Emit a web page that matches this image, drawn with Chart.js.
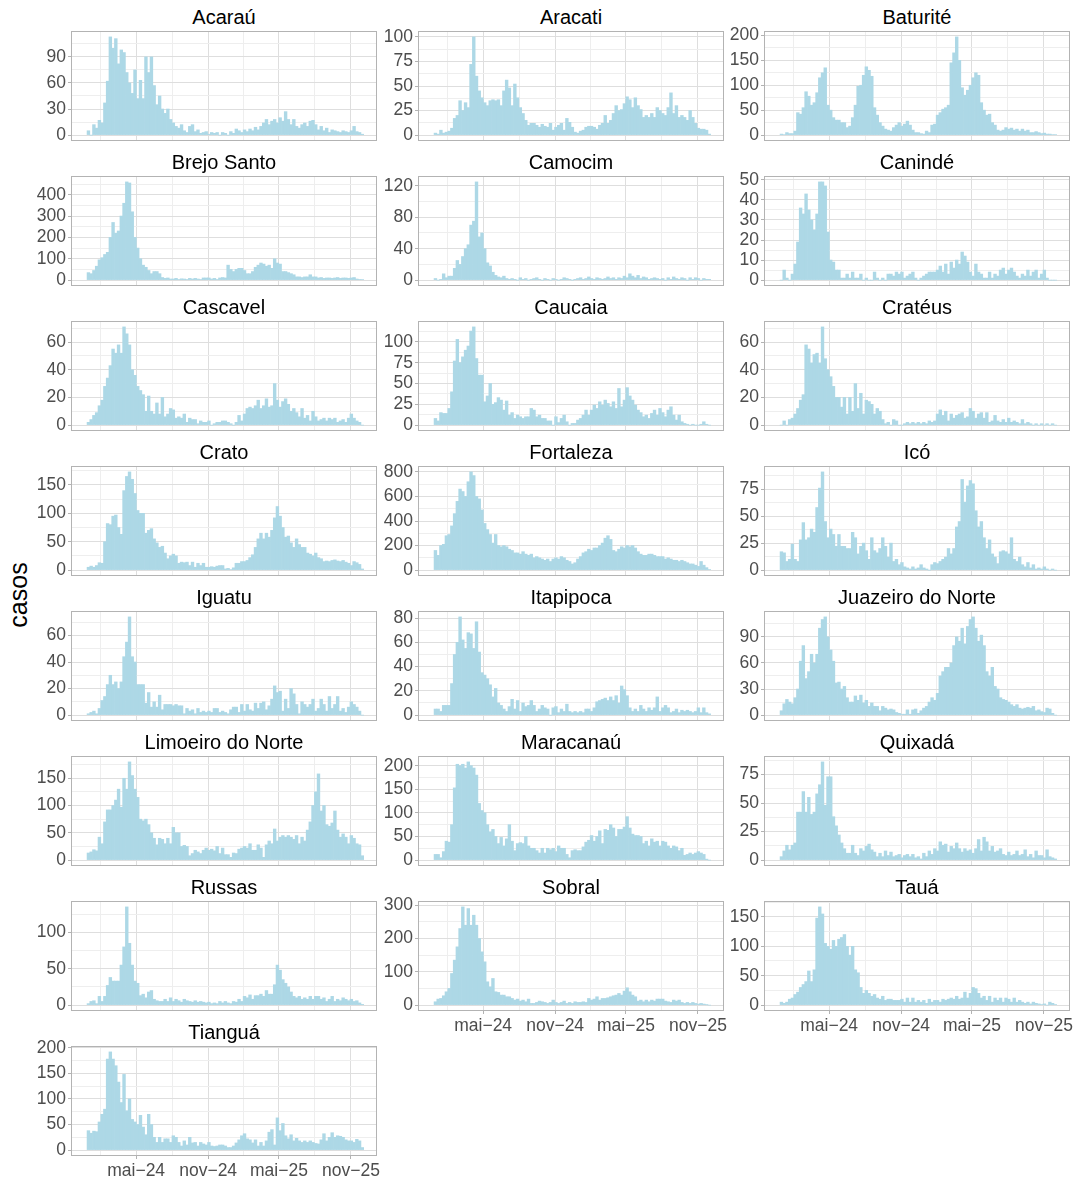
<!DOCTYPE html>
<html>
<head>
<meta charset="utf-8">
<script src="https://cdn.jsdelivr.net/npm/chart.js@4.4.1/dist/chart.umd.min.js"></script>
<style>
    body {
        margin: 0;
        background: #ffffff;
        width: 1080px;
        height: 1180px;
        position: relative;
        overflow: hidden;
        font-family: "Liberation Sans", Arial, sans-serif;
    }
    .panel {
        position: absolute;
    }
    .strip {
        position: absolute;
        width: 304px;
        height: 24px;
        line-height: 24px;
        text-align: center;
        font-size: 20px;
        color: #000000;
        white-space: nowrap;
    }
    #ylab {
        position: absolute;
        left: -22px;
        top: 580px;
        width: 80px;
        height: 30px;
        line-height: 30px;
        text-align: center;
        font-size: 25px;
        color: #000000;
        transform: rotate(-90deg);
    }
</style>
</head>
<body>
<div id="ylab">casos</div>
<script>
// ##################### DATA #####################

// casos semanais, 1a barra = semana de 31/12/2023
const cities = [
    "Acaraú", "Aracati", "Baturité",
    "Brejo Santo", "Camocim", "Canindé",
    "Cascavel", "Caucaia", "Cratéus",
    "Crato", "Fortaleza", "Icó",
    "Iguatu", "Itapipoca", "Juazeiro do Norte",
    "Limoeiro do Norte", "Maracanaú", "Quixadá",
    "Russas", "Sobral", "Tauá",
    "Tianguá"
];

const acarau = [5,0,12,8,17,14,37,62,113,100,111,82,98,95,72,60,48,75,42,63,42,90,72,90,57,35,45,30,25,30,18,14,10,8,12,5,3,10,12,4,6,2,3,4,1,3,2,3,0,3,2,0,4,2,7,5,3,6,4,7,5,9,6,10,14,18,12,16,18,14,20,16,27,18,12,18,10,8,12,14,10,16,17,12,6,10,5,8,3,6,5,4,3,5,4,3,5,10,4,3,1];
const aracati = [2,1,5,2,3,4,7,17,20,35,25,33,28,72,100,60,45,38,33,30,35,36,35,36,30,45,56,48,30,52,38,28,22,15,10,12,12,10,8,11,9,8,12,5,8,10,12,5,17,13,8,3,2,4,5,8,9,9,8,6,10,12,20,12,15,22,30,25,26,32,39,36,28,38,30,26,18,20,18,22,18,28,25,22,20,28,43,22,30,18,20,18,15,25,18,12,7,6,6,5,1];
const baturite = [2,1,5,3,3,8,45,42,55,87,78,60,65,85,115,125,135,60,50,35,30,30,25,25,15,18,35,60,98,100,120,137,130,118,55,40,25,18,12,10,8,15,20,25,18,22,28,20,10,5,5,3,2,8,5,20,22,40,45,52,55,60,145,165,197,150,95,80,90,100,115,125,120,65,50,40,42,25,20,10,8,10,15,12,14,10,12,8,12,8,10,5,5,7,5,3,4,2,2,1,1];
const brejoSanto = [35,30,45,65,95,105,120,130,200,270,220,230,300,360,460,455,320,200,150,100,70,60,45,30,40,40,30,12,8,10,5,5,8,3,6,5,3,8,5,8,5,3,10,10,10,5,8,3,10,12,10,70,50,40,50,55,55,45,30,30,40,60,70,80,75,65,70,55,100,80,75,40,40,35,30,25,15,15,12,15,15,25,15,15,10,12,8,10,10,8,10,12,8,10,10,8,10,12,5,3,2];
const camocim = [2,0,1,8,3,5,5,15,25,20,30,40,45,70,75,125,55,60,40,22,18,10,6,4,3,5,2,1,2,1,0,3,1,2,0,1,2,3,1,0,2,1,0,2,1,0,1,3,2,1,0,1,2,3,1,2,4,2,1,3,2,1,2,4,2,3,1,3,2,5,3,8,5,3,6,2,4,3,1,2,3,2,1,2,0,3,1,4,2,1,3,2,0,3,1,3,2,0,2,1,1];
const caninde = [0,5,1,0,3,8,19,36,33,43,35,30,25,33,49,49,47,24,10,9,5,5,1,1,3,1,4,1,1,3,0,1,0,0,4,1,0,1,0,3,3,2,4,3,4,1,2,3,4,1,0,1,2,3,4,4,4,5,7,4,8,3,9,6,10,8,14,12,9,4,2,8,4,3,1,1,4,1,3,2,5,6,3,5,6,4,2,1,3,2,5,2,4,5,1,3,5,1,0,0,0];
const cascavel = [2,4,7,9,14,18,28,34,43,55,52,58,52,71,66,58,40,36,28,25,22,10,21,10,8,16,8,20,6,8,12,11,5,6,5,8,2,5,4,4,1,3,2,2,3,0,1,2,2,3,3,2,1,0,2,7,3,8,12,13,12,14,18,12,14,19,13,14,30,18,13,17,19,15,10,12,9,6,12,5,7,3,10,6,3,4,5,3,5,4,5,2,3,4,2,5,8,5,3,2,0];
const caucaia = [8,5,15,14,14,20,40,77,103,75,82,90,95,113,118,80,60,60,28,35,50,25,27,33,30,18,29,12,15,8,12,10,8,10,10,20,18,10,12,8,8,5,5,0,10,3,8,12,4,0,2,2,6,8,12,18,12,18,24,20,28,24,30,26,22,28,20,44,22,30,45,35,30,24,18,15,10,12,8,14,18,12,20,15,10,18,22,12,6,12,4,2,1,0,1,0,0,1,4,1,0];
const crateus = [0,3,0,4,5,8,12,18,22,58,55,45,51,52,45,71,48,40,35,28,20,20,13,20,8,20,10,30,12,23,8,18,17,15,8,12,10,4,1,2,0,4,3,0,0,1,2,1,2,1,2,1,2,1,3,2,3,8,11,7,10,3,8,5,7,8,9,5,6,12,10,5,8,9,5,9,2,3,7,3,2,4,2,5,2,3,2,1,4,1,2,1,0,1,0,1,0,1,0,1,0];
const crato = [5,7,5,8,13,12,50,82,80,95,97,75,63,140,165,173,160,135,105,100,100,65,70,73,55,48,40,42,30,20,25,28,25,12,14,13,14,8,14,5,12,8,12,5,5,6,5,7,8,8,2,3,1,4,12,12,15,15,17,22,27,40,55,65,55,65,58,70,92,112,95,75,58,60,48,40,55,45,40,40,30,28,25,30,22,20,15,16,15,17,18,16,15,17,14,12,8,15,13,10,2];
const fortaleza = [160,120,200,210,280,290,360,460,560,660,640,600,720,800,770,600,580,490,380,330,290,220,290,200,190,200,190,170,160,140,140,130,150,130,120,130,100,110,100,90,80,90,70,90,100,90,110,100,80,70,50,60,90,110,140,150,170,160,180,180,200,220,260,280,250,160,150,170,190,180,200,190,200,180,150,130,120,120,130,130,120,110,110,110,90,100,90,80,80,70,80,70,60,50,50,40,30,70,40,20,5];
const ico = [17,16,8,10,24,10,8,28,44,28,30,38,35,58,76,91,45,30,38,33,22,33,22,22,20,20,35,30,15,22,25,18,10,30,18,16,20,30,22,12,25,8,10,5,7,3,2,1,3,1,2,5,2,1,0,5,7,6,8,10,12,20,15,20,40,45,84,63,78,83,80,55,40,45,30,20,28,15,12,6,17,18,17,15,30,10,8,12,5,3,7,2,5,1,2,1,3,1,0,1,0];
const iguatu = [1,2,3,1,5,11,14,23,30,23,25,20,25,44,55,74,44,40,23,23,23,9,17,6,10,6,15,4,8,8,8,7,8,7,7,1,5,3,4,1,5,2,3,2,3,2,5,5,2,3,2,1,4,6,6,2,8,3,8,4,3,9,5,9,10,4,7,12,22,17,18,3,12,5,20,16,8,1,10,8,6,8,12,3,5,12,8,3,14,5,8,14,3,5,2,6,10,8,6,3,0];
const itapipoca = [5,5,3,8,8,8,26,50,60,81,62,55,68,67,55,77,52,35,33,30,25,15,22,10,8,5,3,7,13,5,12,3,10,7,8,12,8,3,5,8,6,5,0,6,7,2,5,3,9,3,2,3,2,3,2,5,5,3,6,11,12,13,14,12,15,12,16,10,24,21,16,6,3,5,3,8,5,3,6,4,6,15,3,6,8,6,2,3,5,2,4,3,4,3,2,3,6,2,6,2,1];
const juazeiro = [5,13,18,15,13,20,30,62,80,42,50,70,60,70,100,110,113,90,75,62,37,38,30,33,20,15,15,22,17,23,14,17,10,14,10,10,5,10,8,6,7,6,3,2,1,1,6,1,6,7,2,5,8,10,15,20,17,25,45,50,55,55,60,80,90,85,100,82,102,110,113,100,85,92,80,50,45,55,33,30,20,18,17,15,12,10,12,8,7,8,9,8,10,5,6,4,3,8,7,2,0];
const limoeiro = [13,15,19,17,42,30,70,92,92,100,110,130,97,150,130,180,155,130,115,75,72,75,65,50,40,28,40,38,30,40,30,60,50,50,25,27,25,8,12,18,15,12,18,22,18,20,17,25,12,22,10,10,5,13,12,20,22,25,22,30,18,18,28,22,5,28,35,30,57,35,42,45,42,45,42,38,45,30,42,35,55,70,100,125,158,90,100,65,62,68,90,55,42,48,42,30,45,40,30,28,8];
const maracanau = [12,12,5,18,40,38,75,153,203,200,203,195,208,200,195,180,120,105,100,75,60,65,50,35,48,30,45,75,40,20,35,37,35,50,30,25,25,20,15,25,15,25,22,25,18,30,25,25,12,5,20,22,20,20,28,38,42,52,40,50,62,35,65,63,75,68,50,65,65,70,92,68,55,52,52,50,35,40,30,45,38,40,30,40,38,30,25,30,28,20,25,10,12,15,12,15,18,15,12,2,0];
const quixada = [3,8,13,9,13,15,42,42,60,42,55,40,42,58,66,86,48,73,73,38,30,22,15,10,6,6,13,6,4,10,8,12,14,9,7,3,6,3,8,4,7,3,4,5,2,4,5,3,5,2,3,1,6,3,8,5,10,8,16,13,14,7,12,10,15,10,7,10,8,9,6,10,18,8,20,16,8,12,7,8,10,5,4,7,4,5,8,4,5,9,3,5,2,8,4,4,2,9,3,2,1];
const russas = [2,5,6,2,12,5,12,27,38,33,33,33,55,80,135,85,55,33,30,13,15,10,18,20,8,6,5,5,8,5,10,5,8,6,4,8,6,5,4,6,4,5,4,3,4,2,3,2,5,3,5,3,2,5,4,8,5,12,10,14,8,13,13,15,12,20,15,15,28,55,48,35,30,25,18,12,10,12,8,10,8,12,8,12,12,8,10,5,8,12,5,8,6,10,8,6,8,5,6,3,1];
const sobral = [10,18,20,28,40,50,95,135,175,230,295,240,290,240,270,240,200,160,130,70,55,80,40,38,30,30,25,25,20,15,18,12,15,10,18,5,5,8,12,10,8,5,8,15,8,5,8,12,5,8,5,10,8,8,10,8,20,15,18,25,15,20,20,22,25,28,30,35,30,42,52,40,30,25,12,15,10,15,10,15,12,18,18,18,12,10,8,15,12,15,8,5,8,5,8,5,3,5,3,1,0];
const taua = [5,3,5,10,12,18,22,30,35,40,58,40,60,148,167,155,105,100,95,110,100,112,115,120,100,85,100,60,55,30,20,25,20,15,18,12,10,15,8,10,10,8,8,8,10,5,12,5,12,5,8,5,8,3,10,5,8,8,5,10,8,10,12,10,15,10,12,22,12,20,30,28,20,12,15,8,15,5,12,8,12,5,12,10,5,12,5,8,5,3,5,2,5,3,2,1,2,0,5,3,1];
const tiangua = [38,33,37,36,55,70,80,178,192,178,165,133,93,148,77,100,60,55,50,68,45,30,70,50,25,15,25,15,22,22,15,28,25,15,8,18,10,25,14,15,8,15,12,10,15,8,7,8,10,10,8,5,5,8,14,20,28,32,22,20,14,20,8,15,8,18,35,40,10,63,38,52,28,22,30,18,23,18,15,18,15,18,15,13,12,20,32,18,25,34,25,28,27,25,20,18,18,15,21,18,5];

const series = [
    acarau, aracati, baturite,
    brejoSanto, camocim, caninde,
    cascavel, caucaia, crateus,
    crato, fortaleza, ico,
    iguatu, itapipoca, juazeiro,
    limoeiro, maracanau, quixada,
    russas, sobral, taua,
    tiangua
];

// passo das marcas do eixo y de cada painel
const yStep = [30, 25, 50, 100, 40, 10, 20, 25, 20, 50, 200, 25, 20, 20, 30, 50, 50, 25, 50, 100, 50, 50];

// eixo x em dias desde 31/12/2023
const weekDays = acarau.map((_, i) => 7 * i);
const xTickDays = [122, 306, 487, 671];
const xTickLabels = ["mai−24", "nov−24", "mai−25", "nov−25"];
const xMinorDays = [30, 214, 396.5, 579];

// ##################### STYLE #####################

const FONT = '"Liberation Sans", Arial, sans-serif';
const BAR = "#add8e6";
const GRID_MAJOR = "#dedede";
const GRID_MINOR = "#eeeeee";
const BORDER = "#b3b3b3";
const TICK_TEXT = "#4d4d4d";

const X_MIN = -42;
const X_MAX = 735;
const AXIS_W = 42;
const PLOT_W = 304;
const PLOT_H = 108;
const PAD_TOP = 14;
const PAD_BOTTOM = 12;
const X_AXIS_H = 28;

const xTicks = xMinorDays
    .map((d) => ({ value: d, minor: true, text: "" }))
    .concat(xTickDays.map((d, i) => ({ value: d, minor: false, text: xTickLabels[i] })))
    .sort((a, b) => a.value - b.value);

// moldura do painel (por cima das barras, como no ggplot)
const framePlugin = {
    id: "frame",
    afterDatasetsDraw(chart) {
        const a = chart.chartArea;
        const ctx = chart.ctx;
        ctx.save();
        ctx.strokeStyle = BORDER;
        ctx.lineWidth = 1;
        ctx.strokeRect(a.left - 0.5, a.top - 0.5, a.right - a.left + 1, a.bottom - a.top + 1);
        ctx.restore();
    },
};

function gridColor(context) {
    return context.tick && context.tick.minor ? GRID_MINOR : GRID_MAJOR;
}

function tickColor(context) {
    return context.tick && context.tick.minor ? "rgba(0,0,0,0)" : BORDER;
}

// ##################### PANELS #####################

function makePanel(p) {
    const vals = series[p];
    const col = p % 3;
    const row = Math.floor(p / 3);
    const bottom = p >= 19;
    const plotLeft = Math.round(72 + 346.5 * col);
    const plotTop = 32 + 145 * row;

    // titulo do painel
    const strip = document.createElement("div");
    strip.className = "strip";
    strip.style.left = plotLeft + "px";
    strip.style.top = plotTop - 27 + "px";
    strip.textContent = cities[p];
    document.body.appendChild(strip);

    const box = document.createElement("div");
    box.className = "panel";
    box.style.left = plotLeft - AXIS_W + "px";
    box.style.top = plotTop - PAD_TOP + "px";
    const canvas = document.createElement("canvas");
    const w = AXIS_W + PLOT_W + 14;
    const h = PAD_TOP + PLOT_H + (bottom ? X_AXIS_H : PAD_BOTTOM);
    canvas.width = w;
    canvas.height = h;
    canvas.style.width = w + "px";
    canvas.style.height = h + "px";
    box.appendChild(canvas);
    document.body.appendChild(box);

    const maxVal = Math.max(...vals);
    const yMin = -0.05 * maxVal;
    const yMax = 1.05 * maxVal;
    const step = yStep[p];
    const yTicks = [];
    for (let v = 0; v <= yMax + 1e-9; v += step / 2) {
        yTicks.push({ value: v, minor: Math.round(v / step) * step !== v });
    }

    new Chart(canvas.getContext("2d"), {
        type: "bar",
        data: {
            datasets: [
                {
                    data: vals.map((v, i) => ({ x: weekDays[i], y: v })),
                    backgroundColor: BAR,
                    borderWidth: 0,
                    categoryPercentage: 1,
                    barPercentage: 1,
                },
            ],
        },
        options: {
            responsive: false,
            animation: false,
            devicePixelRatio: 1,
            layout: {
                padding: { top: PAD_TOP, right: 14, bottom: bottom ? 0 : PAD_BOTTOM, left: 0 },
            },
            plugins: {
                legend: { display: false },
                tooltip: { enabled: false },
            },
            scales: {
                x: {
                    type: "linear",
                    min: X_MIN,
                    max: X_MAX,
                    offset: false,
                    afterBuildTicks: (scale) => {
                        scale.ticks = xTicks.map((t) => ({ ...t }));
                    },
                    afterFit: (scale) => {
                        scale.height = bottom ? X_AXIS_H : 0;
                        scale.paddingLeft = 0;
                        scale.paddingRight = 0;
                    },
                    grid: {
                        offset: false,
                        color: gridColor,
                        lineWidth: 1,
                        drawTicks: bottom,
                        tickLength: 4,
                        tickColor: tickColor,
                    },
                    border: { display: false },
                    ticks: {
                        display: bottom,
                        autoSkip: false,
                        maxRotation: 0,
                        padding: 2,
                        color: TICK_TEXT,
                        font: { family: FONT, size: 17.5 },
                        callback: (value, index, ticks) => ticks[index].text,
                    },
                },
                y: {
                    type: "linear",
                    min: yMin,
                    max: yMax,
                    afterBuildTicks: (scale) => {
                        scale.ticks = yTicks.map((t) => ({ ...t }));
                    },
                    afterFit: (scale) => {
                        scale.width = AXIS_W;
                        scale.paddingTop = 0;
                        scale.paddingBottom = 0;
                    },
                    grid: {
                        color: gridColor,
                        lineWidth: 1,
                        drawTicks: true,
                        tickLength: 4,
                        tickColor: tickColor,
                    },
                    border: { display: false },
                    ticks: {
                        autoSkip: false,
                        padding: 2,
                        color: TICK_TEXT,
                        font: { family: FONT, size: 17.5 },
                        callback: (value, index, ticks) => (ticks[index].minor ? "" : value),
                    },
                },
            },
        },
        plugins: [framePlugin],
    });
}

series.forEach((_, p) => makePanel(p));
</script>
</body>
</html>
